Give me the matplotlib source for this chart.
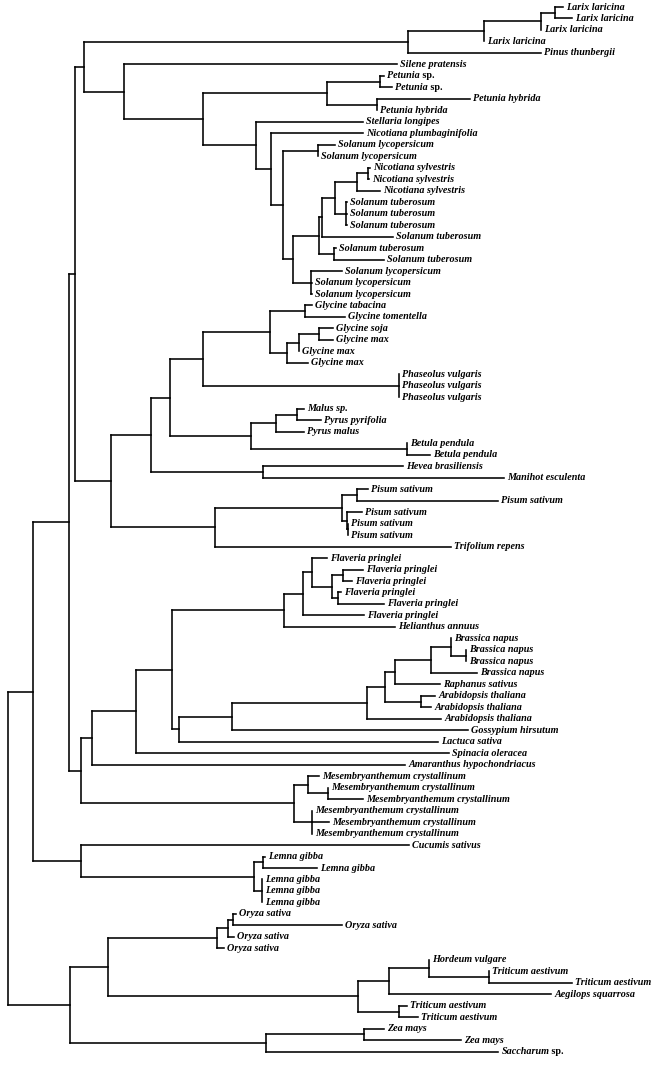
import matplotlib
matplotlib.use("Agg")
import matplotlib.pyplot as plt

# Tree in Newick form; the number after each ':' is the node depth
# (horizontal distance), not the branch length.
conifers = "((((Larix laricina:563,Larix laricina:572):555,Larix laricina:541):541,Larix laricina:484):484,Pinus thunbergii:541):408"
petunia = "((Petunia sp.:384,Petunia sp.:392):380,(Petunia hybrida:470,Petunia hybrida:377):377):327"
potato = ("((((Nicotiana sylvestris:370,Nicotiana sylvestris:369):368,Nicotiana sylvestris:380):357,"
          "(Solanum tuberosum:347,Solanum tuberosum:347,Solanum tuberosum:347):346):335,Solanum tuberosum:393):322")
tomato = ("((Solanum lycopersicum:335,Solanum lycopersicum:318):318,(({potato},(Solanum tuberosum:336,Solanum tuberosum:384):334):319,"
          "(Solanum lycopersicum:342,Solanum lycopersicum:312,Solanum lycopersicum:312):311):293):283")
solanales = "(Silene pratensis:397,({petunia},(Stellaria longipes:363,(Nicotiana plumbaginifolia:363,{tomato}):271):256):203):124"

legumes = ("(((Glycine tabacina:312,Glycine tomentella:345):305,(((Glycine soja:333,Glycine max:333):319,Glycine max:299):299,"
           "Glycine max:308):287):270,(Phaseolus vulgaris:399,Phaseolus vulgaris:399,Phaseolus vulgaris:399):399):203")
rosales = "(((Malus sp.:304,Pyrus pyrifolia:321):297,Pyrus malus:304):276,(Betula pendula:407,Betula pendula:430):407):251"
pisum = ("(((Pisum sativum:368,Pisum sativum:498):357,(Pisum sativum:362,(Pisum sativum:348,Pisum sativum:348):348):347):342,"
         "Trifolium repens:451):215")
rosids = "((({legumes},{rosales}):170,(Hevea brasiliensis:403,Manihot esculenta:504):263):151,{pisum}):111"

asterids = ("(((Flaveria pringlei:327,((Flaveria pringlei:363,Flaveria pringlei:352):343,(Flaveria pringlei:341,Flaveria pringlei:384):338):332):312,"
            "Flaveria pringlei:364):303,Helianthus annuus:395):284")
brassicas = ("(((((Brassica napus:451,(Brassica napus:466,Brassica napus:466):466):451,Brassica napus:477):431,Raphanus sativus:440):395,"
             "(Arabidopsis thaliana:435,Arabidopsis thaliana:431):421):385,Arabidopsis thaliana:441):367")
caryophyll = ("(((({asterids},(({brassicas},Gossypium hirsutum:468):232,Lactuca sativa:438):179):172,Spinacia oleracea:449):136,"
              "Amaranthus hypochondriacus:405):92,((Mesembryanthemum crystallinum:319,(Mesembryanthemum crystallinum:328,"
              "Mesembryanthemum crystallinum:363):328):308,(Mesembryanthemum crystallinum:312,Mesembryanthemum crystallinum:329,"
              "Mesembryanthemum crystallinum:312):312):294):81")
lemna = "(Cucumis sativus:409,((Lemna gibba:265,Lemna gibba:317):263,(Lemna gibba:262,Lemna gibba:262,Lemna gibba:262):262):254):81"
monocots = ("(((((Oryza sativa:236,Oryza sativa:342):233,Oryza sativa:234):228,Oryza sativa:224):217,"
            "(((Hordeum vulgare:429,(Triticum aestivum:489,Triticum aestivum:572):489):429,Aegilops squarrosa:551):389,"
            "(Triticum aestivum:407,Triticum aestivum:418):399):358):108,((Zea mays:384,Zea mays:461):364,Saccharum sp.:498):266):70")

solanales = solanales.format(petunia=petunia, tomato=tomato.format(potato=potato))
rosids = rosids.format(legumes=legumes, rosales=rosales, pisum=pisum)
caryophyll = caryophyll.format(asterids=asterids, brassicas=brassicas)
upper = "(({c},{s}):84,{r}):75".format(c=conifers, s=solanales, r=rosids)
newick = "((({u},{k}):69,{l}):33,{m}):8".format(u=upper, k=caryophyll, l=lemna, m=monocots)


def parse(s, i=0):
    children = []
    name = ""
    if s[i] == "(":
        i += 1
        while True:
            child, i = parse(s, i)
            children.append(child)
            if s[i] == ",":
                i += 1
            else:
                i += 1  # ')'
                break
    else:
        j = s.index(":", i)
        name = s[i:j]
        i = j
    i += 1  # ':'
    j = i
    while j < len(s) and s[j] not in ",)":
        j += 1
    return {"name": name, "depth": float(s[i:j]), "children": children}, j


root, _ = parse(newick)
root_depth = root["depth"]
leaves = []


def layout(node):
    node["x"] = node["depth"] - root_depth
    if not node["children"]:
        node["y"] = len(leaves)
        leaves.append(node)
    else:
        for c in node["children"]:
            layout(c)
        node["y"] = (node["children"][0]["y"] + node["children"][-1]["y"]) / 2


layout(root)

fig = plt.figure(figsize=(6.57, 10.68), dpi=100)
ax = fig.add_axes([0, 0, 1, 1])
ax.set_xlim(-8, 649)
ax.set_ylim(92.42, -0.61)
ax.axis("off")

lw = 1.15


def draw(node):
    kids = node["children"]
    if not kids:
        return
    ax.plot([node["x"], node["x"]], [kids[0]["y"], kids[-1]["y"]], color="black", lw=lw, solid_capstyle="projecting")
    for c in kids:
        ax.plot([node["x"], c["x"]], [c["y"], c["y"]], color="black", lw=lw, solid_capstyle="projecting")
        draw(c)


draw(root)

font = dict(family="Liberation Serif", weight="bold", size=7.3)
for leaf in leaves:
    name = leaf["name"]
    if name.endswith(" sp.") and not name.startswith("Malus"):
        # genus in italics, "sp." upright
        t = ax.annotate(name[:-4], (leaf["x"], leaf["y"]), xytext=(2.5, 0), textcoords="offset points",
                        va="center", ha="left", style="italic", **font)
        ax.annotate(" sp.", xy=(1, 0.5), xycoords=t, va="center", ha="left", **font)
    else:
        ax.annotate(name, (leaf["x"], leaf["y"]), xytext=(2.5, 0), textcoords="offset points",
                    va="center", ha="left", style="italic", **font)

fig.savefig("out.png", dpi=100, facecolor="white")
